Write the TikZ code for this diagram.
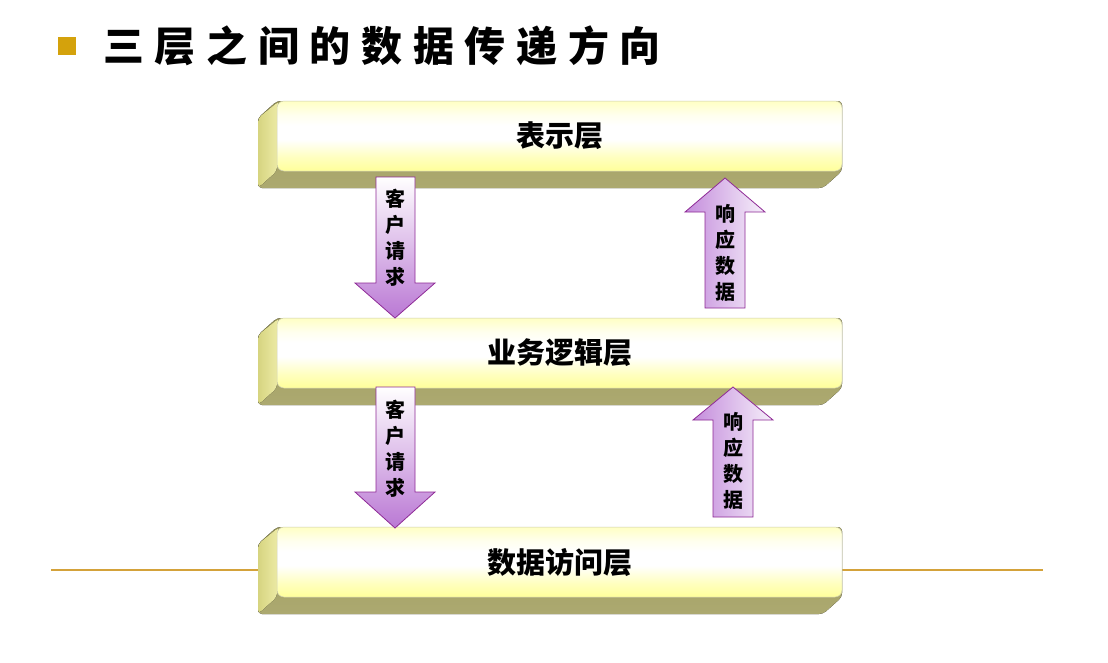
\documentclass[tikz,border=0pt]{standalone}
\usepackage{fontspec}
\newfontfamily\cjk{Noto Sans CJK SC}
\newfontfamily\cjktitle[LetterSpace=26]{Noto Sans CJK SC}
\usetikzlibrary{calc}
\definecolor{goldrule}{HTML}{D4A23A}
\definecolor{bulletgold}{HTML}{D4A20C}
\definecolor{arrowedge}{HTML}{8E2A96}
\definecolor{faceTop}{HTML}{FFFFC4}
\definecolor{faceUp}{HTML}{FFFFEE}
\definecolor{faceLow}{HTML}{FFFFC0}
\definecolor{faceBot}{HTML}{FFFF9A}
\pgfdeclareverticalshading{facefill}{100bp}{%
  color(0bp)=(faceBot); color(25bp)=(faceBot); color(35bp)=(faceLow);
  color(47.5bp)=(white); color(57.5bp)=(white); color(65bp)=(faceUp);
  color(75bp)=(faceTop); color(100bp)=(faceTop)}
\tikzset{
  frontface/.style={rounded corners=7pt, minimum width=565pt, minimum height=70pt,
    shading=facefill,
    draw={rgb,255:red,205;green,205;blue,175}, line width=0.5pt,
    font=\cjk\bfseries\fontsize{29}{32}\selectfont, inner sep=0pt},
  sideface/.style={left color={rgb,255:red,214;green,212;blue,128},
    right color={rgb,255:red,238;green,236;blue,168}},
  bottomface/.style={top color={rgb,255:red,158;green,155;blue,94},
    bottom color={rgb,255:red,172;green,169;blue,112}},
  downarrow/.style={draw=arrowedge, line width=0.8pt, top color=white,
    bottom color={rgb,255:red,186;green,120;blue,212}},
  uparrow/.style={draw=arrowedge, line width=0.8pt,
    left color={rgb,255:red,196;green,140;blue,220},
    right color={rgb,255:red,246;green,240;blue,250}},
  arrowtext/.style={align=center, inner sep=0pt,
    font=\cjk\bfseries\fontsize{20}{26}\selectfont},
  rule/.style={draw=goldrule, line width=2pt}
}
\newcommand\layerbox[3]{%
  \fill[bottomface, rounded corners=4pt] (277,#2) -- (258,#2+17) -- (258,#2+87)
    -- (823,#2+87) -- (842,#2+70) -- (842,#2) -- cycle;
  \fill[sideface, rounded corners=4pt] (279,#2) -- (258,#2+17) -- (258,#2+87)
    -- (277,#2+70) -- cycle;
  \node[frontface] (#1) at (559.5,#2+35) {#3};
}
\begin{document}
\begin{tikzpicture}[x=1pt,y=-1pt]
\useasboundingbox[fill=white] (0,0) rectangle (1108,662);
% title
\node[fill=bulletgold, minimum size=18pt, inner sep=0pt] (bullet) at (67,46) {};
\node[anchor=west, inner sep=0pt, font=\cjktitle\bfseries\fontsize{41}{44}\selectfont] (title) at (103,46) {三层之间的数据传递方向};
% rule
\coordinate (ruleL) at (51,570);
\coordinate (ruleR) at (1043,570);
\draw[rule] (ruleL) -- (ruleR);
% layers
\layerbox{pres}{101}{表示层}
\layerbox{biz}{318}{业务逻辑层}
\layerbox{data}{527}{数据访问层}
% arrows
\path[downarrow] (376,177) -- (415,177) -- (415,283) -- (435,283) -- (395,318)
  -- (355,283) -- (376,283) -- cycle;
\path[uparrow] (705,308) -- (705,212) -- (685,212) -- (725,178) -- (765,212)
  -- (745,212) -- (745,308) -- cycle;
\path[downarrow] (376,387) -- (415,387) -- (415,492) -- (435,492) -- (395,528)
  -- (355,492) -- (376,492) -- cycle;
\path[uparrow] (713,517) -- (713,420) -- (693,420) -- (733,387) -- (773,420)
  -- (753,420) -- (753,517) -- cycle;
\node[arrowtext] (req1) at (395,238) {客\\户\\请\\求};
\node[arrowtext] (resp1) at (725,253) {响\\应\\数\\据};
\node[arrowtext] (req2) at (395,449) {客\\户\\请\\求};
\node[arrowtext] (resp2) at (733,461) {响\\应\\数\\据};
\end{tikzpicture}
\end{document}
